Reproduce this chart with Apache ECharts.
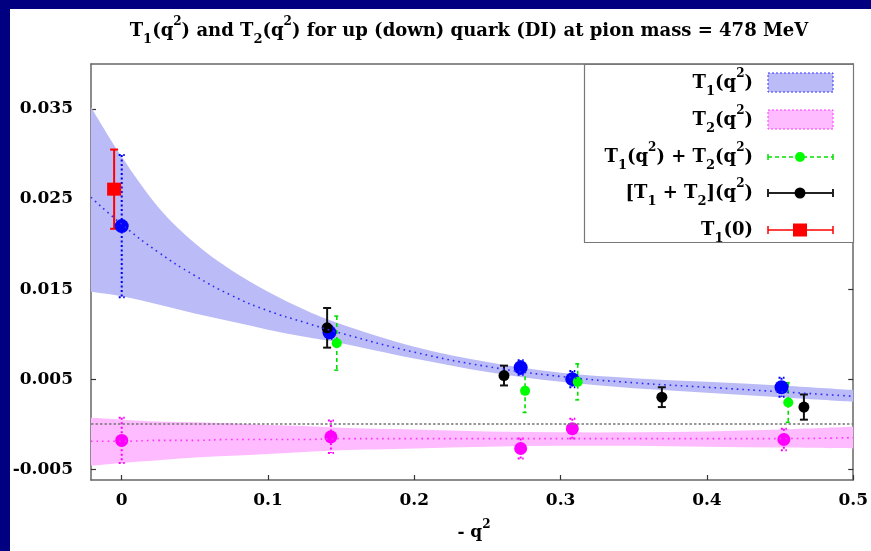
<!DOCTYPE html>
<html>
<head>
<meta charset="utf-8">
<title>T1 and T2 form factors</title>
<script src="https://cdn.jsdelivr.net/npm/echarts@6.0.0/dist/echarts.min.js"></script>
<style>
  html, body { margin: 0; padding: 0; background: #fff; }
  #chart { width: 871px; height: 551px; }
</style>
</head>
<body>
<div id="chart"></div>
<script>
// fit bands (x = -q^2)
var bandX    = [-0.021, 0, 0.025, 0.05, 0.075, 0.1, 0.125, 0.15, 0.2, 0.25, 0.3, 0.35, 0.4, 0.45, 0.5];
var t1Upper  = [0.0352, 0.0297, 0.0241, 0.0201, 0.0171, 0.0147, 0.0127, 0.0111, 0.0086, 0.0069, 0.0057, 0.0051, 0.0047, 0.0043, 0.0038];
var t1Center = [0.0252, 0.0222, 0.0191, 0.0165, 0.0143, 0.0126, 0.0113, 0.0101, 0.0080, 0.0064, 0.0053, 0.0046, 0.0041, 0.0036, 0.0031];
var t1Lower  = [0.0147, 0.0142, 0.0133, 0.0123, 0.0114, 0.0105, 0.0097, 0.0090, 0.0073, 0.0058, 0.0047, 0.0040, 0.0035, 0.0030, 0.0025];
var t2Upper  = [0.0007, 0.0005, 0.0003, 0.0002, 0.0001, -0.0001, -0.0002, -0.0004, -0.0006, -0.0008, -0.0009, -0.0009, -0.0008, -0.0006, -0.0003];
var t2Center = [-0.0019, -0.0019, -0.0018, -0.0018, -0.0017, -0.0017, -0.0017, -0.0016, -0.0016, -0.0016, -0.0016, -0.0016, -0.0016, -0.0016, -0.0015];
var t2Lower  = [-0.0046, -0.0043, -0.0040, -0.0037, -0.0035, -0.0033, -0.0031, -0.0029, -0.0027, -0.0025, -0.0024, -0.0024, -0.0025, -0.0026, -0.0027];

// lattice points
var t1X = [0, 0.142, 0.2727, 0.308, 0.451];
var t1Y = [0.0220, 0.0102, 0.0063, 0.0050, 0.0041];
var t1E = [0.0079, 0.0007, 0.0008, 0.0009, 0.00105];
var t2X = [0, 0.143, 0.2727, 0.308, 0.4526];
var t2Y = [-0.0018, -0.0014, -0.0027, -0.0005, -0.0017];
var t2E = [0.0025, 0.0018, 0.0011, 0.0011, 0.0012];
var sumX = [0.147, 0.2757, 0.3117, 0.4556];
var sumY = [0.0090, 0.0037, 0.0047, 0.0024];
var sumE = [0.0030, 0.0024, 0.0020, 0.0022];
var blkX = [0.1404, 0.2613, 0.3692, 0.4663];
var blkY = [0.0107, 0.0054, 0.0030, 0.0019];
var blkE = [0.0022, 0.0011, 0.0011, 0.0014];
var redX = [-0.0052];
var redY = [0.0261];
var redE = [0.0044];

var xTicks = [0, 0.1, 0.2, 0.3, 0.4, 0.5];
var yTicks = [-0.005, 0.005, 0.015, 0.025, 0.035];

var FONT = 'DejaVu Serif';
function rt(size, lh, va) {
  var s = { fontFamily: FONT, fontWeight: 'bold', fontSize: size, lineHeight: lh, fill: '#000', color: '#000' };
  if (va) s.verticalAlign = va;
  return s;
}

var chart = echarts.init(document.getElementById('chart'), null, { renderer: 'canvas' });

// cubic segments through pixel points (catmull-rom), to draw the band edges smooth
function curveTo(pts) {
  var d = '';
  for (var i = 0; i < pts.length - 1; i++) {
    var p0 = pts[Math.max(i - 1, 0)], p1 = pts[i], p2 = pts[i + 1], p3 = pts[Math.min(i + 2, pts.length - 1)];
    var c1x = p1[0] + (p2[0] - p0[0]) / 6, c1y = p1[1] + (p2[1] - p0[1]) / 6;
    var c2x = p2[0] - (p3[0] - p1[0]) / 6, c2y = p2[1] - (p3[1] - p1[1]) / 6;
    d += ' C' + c1x + ' ' + c1y + ' ' + c2x + ' ' + c2y + ' ' + p2[0] + ' ' + p2[1];
  }
  return d;
}

function band(lo, hi, color) {
  return {
    type: 'custom',
    coordinateSystem: 'cartesian2d',
    silent: true,
    clip: true,
    data: bandX.map(function (x, i) { return [x, lo[i], hi[i]]; }),
    encode: { x: 0, y: [1, 2] },
    renderItem: function (params, api) {
      if (params.dataIndex !== 0) return null;
      var up = [], dn = [];
      for (var i = 0; i < bandX.length; i++) up.push(api.coord([bandX[i], hi[i]]));
      for (var j = bandX.length - 1; j >= 0; j--) dn.push(api.coord([bandX[j], lo[j]]));
      var d = 'M' + up[0][0] + ' ' + up[0][1] + curveTo(up) +
              ' L' + dn[0][0] + ' ' + dn[0][1] + curveTo(dn) + ' Z';
      return { type: 'path', shape: { pathData: d }, style: { fill: color, stroke: null } };
    }
  };
}

function fitLine(ys, color) {
  return {
    type: 'line', silent: true, smooth: true, showSymbol: false,
    data: bandX.map(function (x, i) { return [x, ys[i]]; }),
    lineStyle: { color: color, width: 1.6, type: [1.6, 4] }
  };
}

function errBars(xs, ys, es, color, dash, capW, width) {
  return {
    type: 'custom', coordinateSystem: 'cartesian2d', silent: true, clip: true,
    data: xs.map(function (x, i) { return [x, ys[i], es[i]]; }),
    encode: { x: 0, y: 1 },
    renderItem: function (params, api) {
      var x = api.value(0), y = api.value(1), e = api.value(2);
      var top = api.coord([x, y + e]);
      var bot = api.coord([x, y - e]);
      var st = { stroke: color, lineWidth: width, lineDash: dash };
      return {
        type: 'group',
        children: [
          { type: 'line', shape: { x1: top[0], y1: top[1], x2: bot[0], y2: bot[1] }, style: st },
          { type: 'line', shape: { x1: top[0] - capW / 2, y1: top[1], x2: top[0] + capW / 2, y2: top[1] }, style: st },
          { type: 'line', shape: { x1: bot[0] - capW / 2, y1: bot[1], x2: bot[0] + capW / 2, y2: bot[1] }, style: st }
        ]
      };
    }
  };
}

function points(xs, ys, color, symbol, size) {
  return {
    type: 'scatter', silent: true,
    symbol: symbol, symbolSize: size,
    data: xs.map(function (x, i) { return [x, ys[i]]; }),
    itemStyle: { color: color, opacity: 1 }
  };
}

// legend, drawn by hand so the labels can carry sub/superscripts
var legRows = [
  'T{s|1}(q{p|2})',
  'T{s|2}(q{p|2})',
  'T{s|1}(q{p|2}) + T{s|2}(q{p|2})',
  '[T{s|1} + T{s|2}](q{p|2})',
  'T{s|1}(0)'
];
var legY = [83, 120, 157, 193, 230];
var rich = { s: rt(13, 14, 'bottom'), p: rt(12, 10, 'top') };
var legend = [
  { type: 'rect', shape: { x: 584.5, y: 64.5, width: 269, height: 178 }, style: { fill: '#fff', stroke: '#777', lineWidth: 1.2 }, z: 100 }
];
legRows.forEach(function (txt, i) {
  legend.push({
    type: 'text', x: 753, y: legY[i], z: 101,
    style: { text: txt, align: 'right', verticalAlign: 'middle', fontFamily: FONT, fontWeight: 'bold', fontSize: 18, lineHeight: 30, fill: '#000', rich: rich }
  });
});
legend.push(
  { type: 'rect', z: 101, shape: { x: 768, y: 73, width: 65, height: 19 }, style: { fill: '#bbbbf7', stroke: '#3333ff', lineWidth: 1, lineDash: [2, 2] } },
  { type: 'rect', z: 101, shape: { x: 768, y: 110, width: 65, height: 19 }, style: { fill: '#ffbbff', stroke: '#ff33ff', lineWidth: 1, lineDash: [2, 2] } },
  { type: 'line', z: 101, shape: { x1: 768, y1: 157, x2: 833, y2: 157 }, style: { stroke: '#00e000', lineWidth: 1.5, lineDash: [4, 3] } },
  { type: 'line', z: 101, shape: { x1: 768, y1: 154, x2: 768, y2: 160 }, style: { stroke: '#00e000', lineWidth: 1.5 } },
  { type: 'line', z: 101, shape: { x1: 833, y1: 154, x2: 833, y2: 160 }, style: { stroke: '#00e000', lineWidth: 1.5 } },
  { type: 'circle', z: 102, shape: { cx: 800, cy: 157, r: 5 }, style: { fill: '#00ff00' } },
  { type: 'line', z: 101, shape: { x1: 768, y1: 193, x2: 833, y2: 193 }, style: { stroke: '#222', lineWidth: 2 } },
  { type: 'line', z: 101, shape: { x1: 768, y1: 189, x2: 768, y2: 197 }, style: { stroke: '#222', lineWidth: 2 } },
  { type: 'line', z: 101, shape: { x1: 833, y1: 189, x2: 833, y2: 197 }, style: { stroke: '#222', lineWidth: 2 } },
  { type: 'circle', z: 102, shape: { cx: 800, cy: 193, r: 5.5 }, style: { fill: '#000' } },
  { type: 'line', z: 101, shape: { x1: 768, y1: 230, x2: 833, y2: 230 }, style: { stroke: '#ff0000', lineWidth: 1.5 } },
  { type: 'line', z: 101, shape: { x1: 768, y1: 226, x2: 768, y2: 234 }, style: { stroke: '#ff0000', lineWidth: 1.5 } },
  { type: 'line', z: 101, shape: { x1: 833, y1: 226, x2: 833, y2: 234 }, style: { stroke: '#ff0000', lineWidth: 1.5 } },
  { type: 'rect', z: 102, shape: { x: 793, y: 223.5, width: 14, height: 13 }, style: { fill: '#ff0000' } }
);

var axisFont = { fontFamily: FONT, fontWeight: 'bold', fontSize: 17, color: '#000' };
var frameLine = { show: true, onZero: false, lineStyle: { color: '#666', width: 1.5 } };

var option = {
  backgroundColor: '#fff',
  animation: false,
  grid: { left: 91, top: 64, width: 763, height: 416, containLabel: false },
  xAxis: [
    {
      type: 'value', min: -0.021, max: 0.5, position: 'bottom',
      axisLine: frameLine,
      axisTick: { inside: true, length: 5, customValues: xTicks, lineStyle: { color: '#333', width: 1.2 } },
      axisLabel: Object.assign({ margin: 12, customValues: xTicks, formatter: function (v) { return String(v); } }, axisFont),
      splitLine: { show: false }
    },
    {
      type: 'value', min: -0.021, max: 0.5, position: 'top',
      axisLine: frameLine, axisTick: { show: false }, axisLabel: { show: false }, splitLine: { show: false }
    }
  ],
  yAxis: [
    {
      type: 'value', min: -0.0062, max: 0.040, position: 'left',
      axisLine: frameLine,
      axisTick: { inside: true, length: 5, customValues: yTicks, lineStyle: { color: '#333', width: 1.2 } },
      axisLabel: Object.assign({ margin: 18, customValues: yTicks, formatter: function (v) { return String(v); } }, axisFont),
      splitLine: { show: false }
    },
    {
      type: 'value', min: -0.0062, max: 0.040, position: 'right',
      axisLine: frameLine,
      axisTick: { inside: true, length: 5, customValues: yTicks, lineStyle: { color: '#333', width: 1.2 } },
      axisLabel: { show: false }, splitLine: { show: false }
    }
  ],
  graphic: [
    { type: 'rect', shape: { x: 0, y: 0, width: 871, height: 9 }, style: { fill: '#000080' }, z: 200 },
    { type: 'rect', shape: { x: 0, y: 0, width: 10, height: 551 }, style: { fill: '#000080' }, z: 200 },
    {
      type: 'text', x: 469, y: 31, z: 100,
      style: {
        text: 'T{s|1}(q{p|2}) and T{s|2}(q{p|2}) for up (down) quark (DI) at pion mass = 478 MeV',
        align: 'center', verticalAlign: 'middle',
        fontFamily: FONT, fontWeight: 'bold', fontSize: 18, lineHeight: 30, fill: '#000', rich: rich
      }
    },
    {
      type: 'text', x: 474, y: 533, z: 100,
      style: {
        text: '- q{p|2}', align: 'center', verticalAlign: 'middle',
        fontFamily: FONT, fontWeight: 'bold', fontSize: 17, lineHeight: 28, fill: '#000', rich: rich
      }
    }
  ].concat(legend),
  series: [
    band(t1Lower, t1Upper, '#bbbbf7'),
    band(t2Lower, t2Upper, '#ffbbff'),
    fitLine(t1Center, '#2a2aff'),
    Object.assign(fitLine(t2Center, '#ff33ff'), {
      markLine: {
        silent: true, symbol: 'none', label: { show: false },
        lineStyle: { color: '#777', width: 1.5, type: [2.5, 2] },
        data: [{ yAxis: 0 }]
      }
    }),
    errBars(t1X, t1Y, t1E, '#0000ff', [2, 2.5], 6, 2),
    points(t1X, t1Y, '#0000ff', 'circle', 14),
    errBars(t2X, t2Y, t2E, '#ff00ff', [2, 2.5], 6, 2),
    points(t2X, t2Y, '#ff00ff', 'circle', 13),
    errBars(sumX, sumY, sumE, '#00e000', [4, 3], 5, 1.6),
    points(sumX, sumY, '#00ff00', 'circle', 10),
    errBars(blkX, blkY, blkE, '#111', null, 8, 2),
    points(blkX, blkY, '#000', 'circle', 11),
    errBars(redX, redY, redE, '#ff0000', null, 8, 2),
    points(redX, redY, '#ff0000', 'rect', [14, 13])
  ]
};
chart.setOption(option);
</script>
</body>
</html>
